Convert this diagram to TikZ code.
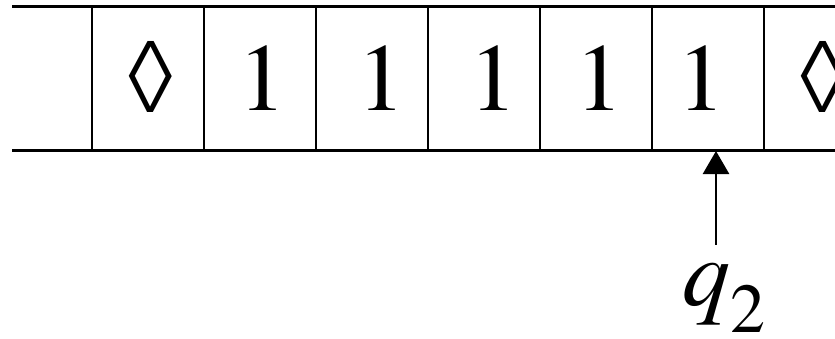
\documentclass[tikz,border=0pt]{standalone}
\usepackage{fontspec}
\setmainfont{TeX Gyre Termes}
\usetikzlibrary{arrows.meta}

\begin{document}
\begin{tikzpicture}[x=1pt, y=-1pt, every node/.style={inner sep=0pt, font=\fontsize{96}{96}\selectfont}]
      \useasboundingbox (0,0) rectangle (835,338);
      % tape
      \draw[line width=3pt] (12,6) -- (835,6) (12,150) -- (835,150);
      \foreach \x in {92,204,316,428,540,652,764}
         \draw[line width=2.6pt] (\x,6) -- (\x,150);
      
      \node (c1) at (151.5,77) {◊};
      \foreach \x [count=\i from 2] in {262,381,493,599,701}
         \node[anchor=base] (c\i) at (\x,110) {1};
      \node (c7) at (823,77) {◊};
      
      % head
      \coordinate (head) at (716,151);
      \node[anchor=base west, outer ysep=18pt] (q) at (682,305) {\itshape q\raisebox{-27pt}{\fontsize{70}{70}\selectfont\upshape 2}};
      \draw[line width=2.6pt, -{Triangle[width=26pt,length=23pt]}] (q.north -| head) -- (head);
    \end{tikzpicture}
\end{document}
